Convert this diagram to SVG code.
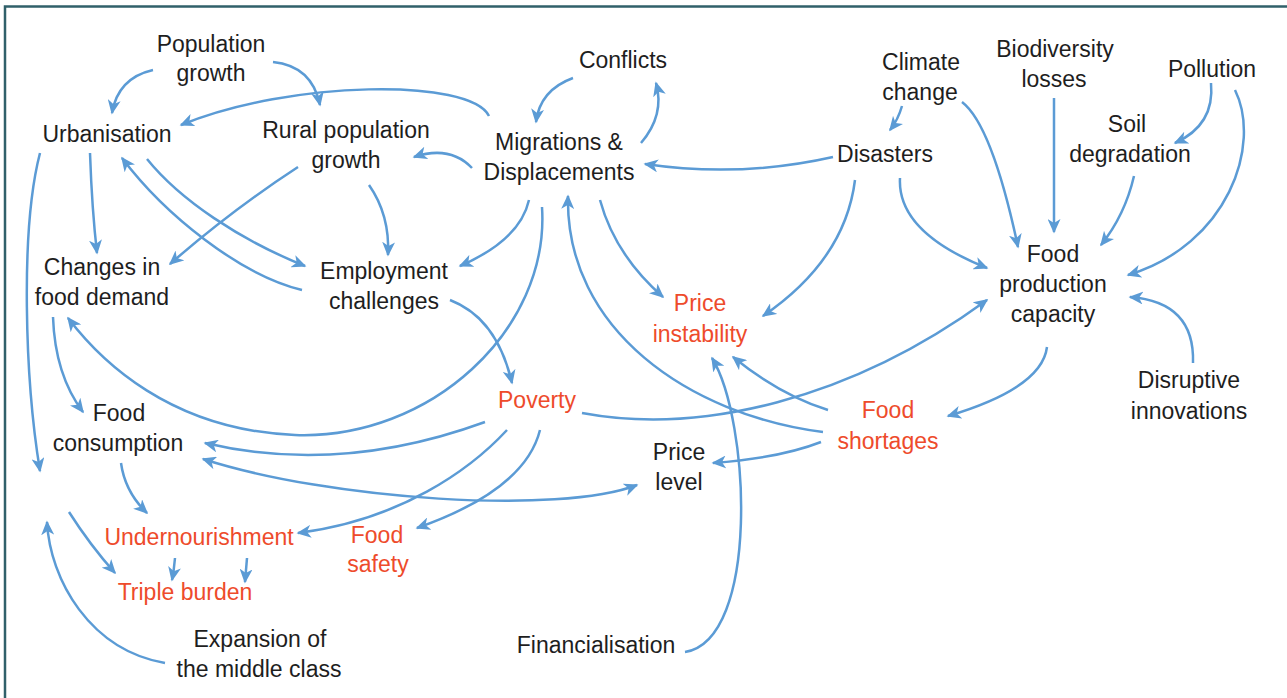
<svg xmlns="http://www.w3.org/2000/svg" width="1287" height="698" viewBox="0 0 1287 698">
<defs>
<marker id="ah" markerUnits="userSpaceOnUse" markerWidth="15" markerHeight="13" refX="13" refY="6.5" orient="auto-start-reverse" viewBox="0 0 15 13">
<path d="M0,0 L14.5,6.5 L0,13 L4,6.5 z" fill="#5b9bd5"/>
</marker>
<style>
text{font-family:"Liberation Sans",Arial,sans-serif;font-size:23px;text-anchor:middle;fill:#1e1e1e}
.r{fill:#ee4b2b}
.c path{fill:none;stroke:#5b9bd5;stroke-width:2.5;marker-end:url(#ah)}
</style>
</defs>
<rect width="1287" height="698" fill="#fff"/>
<path d="M5,698 V6.5 H1287" fill="none" stroke="#30606a" stroke-width="2.5"/>
<g class="c" id="connectors">
<path d="M153,70 Q118,78 112,113"/>
<path d="M273,62 Q312,66 320,105"/>
<path d="M489,116 C470,78 290,80 181,125"/>
<path d="M472,168 Q450,145 414,157"/>
<path d="M573,78 Q540,90 536,122"/>
<path d="M641,143 Q665,115 656,83"/>
<path d="M833,157 Q740,178 645,164"/>
<path d="M902,106 Q898,120 890,130"/>
<path d="M962,102 Q992,125 1018,247"/>
<path d="M1054,98 V232"/>
<path d="M1211,83 Q1215,125 1175,143"/>
<path d="M1235,90 C1262,145 1228,245 1128,275"/>
<path d="M1134,176 Q1125,215 1101,245"/>
<path d="M900,178 Q897,232 987,268"/>
<path d="M855,180 Q845,260 763,316"/>
<path d="M1193,363 Q1195,302 1130,297"/>
<path d="M1047,347 Q1042,388 948,416"/>
<path d="M582,413 C700,435 850,400 987,300"/>
<path d="M828,410 Q780,395 733,357"/>
<path d="M823,432 C690,415 565,330 568,196"/>
<path d="M821,442 Q780,458 713,463"/>
<path d="M685,652 C760,640 750,420 712,358"/>
<path d="M600,200 Q615,255 663,297"/>
<path d="M529,200 Q520,240 460,266"/>
<path d="M542,207 C550,330 430,440 295,435 C170,430 100,360 68,318"/>
<path d="M302,290 C240,275 165,215 122,158"/>
<path d="M147,159 C180,200 240,240 305,266"/>
<path d="M298,167 Q232,210 170,264"/>
<path d="M369,185 Q390,215 388,255"/>
<path d="M90,153 Q92,210 97,253"/>
<path d="M40,153 C20,230 25,380 40,471"/>
<path d="M53,317 Q55,375 83,412"/>
<path d="M121,463 Q125,492 147,513"/>
<path d="M69,512 Q90,545 115,573"/>
<path d="M175,558 Q174,570 172,580"/>
<path d="M247,558 Q246,570 245,582"/>
<path d="M165,663 C90,650 50,580 47,522"/>
<path d="M450,300 Q497,318 512,383"/>
<path d="M485,422 Q340,475 205,443"/>
<path d="M507,430 C470,470 400,520 298,533"/>
<path d="M540,430 Q525,490 417,528"/>
<path d="M203,459 C330,500 560,515 637,485" style="marker-start:url(#ah)"/>
</g>
<g id="population-growth"><text x="211" y="52">Population</text><text x="211" y="81">growth</text></g>
<g id="urbanisation"><text x="107" y="142">Urbanisation</text></g>
<g id="rural-population-growth"><text x="346" y="138">Rural population</text><text x="346" y="168">growth</text></g>
<g id="conflicts"><text x="623" y="68">Conflicts</text></g>
<g id="migrations"><text x="559" y="150">Migrations &amp;</text><text x="559" y="180">Displacements</text></g>
<g id="climate-change"><text x="921" y="70">Climate</text><text x="920" y="100">change</text></g>
<g id="biodiversity-losses"><text x="1055" y="57">Biodiversity</text><text x="1054" y="87">losses</text></g>
<g id="pollution"><text x="1212" y="77">Pollution</text></g>
<g id="soil-degradation"><text x="1127" y="132">Soil</text><text x="1130" y="162">degradation</text></g>
<g id="disasters"><text x="885" y="162">Disasters</text></g>
<g id="food-production-capacity"><text x="1053" y="262">Food</text><text x="1053" y="292">production</text><text x="1053" y="322">capacity</text></g>
<g id="changes-food-demand"><text x="102" y="275">Changes in</text><text x="102" y="305">food demand</text></g>
<g id="employment-challenges"><text x="384" y="279">Employment</text><text x="384" y="309">challenges</text></g>
<g id="food-consumption"><text x="119" y="421">Food</text><text x="118" y="451">consumption</text></g>
<g id="undernourishment"><text class="r" x="199" y="545">Undernourishment</text></g>
<g id="triple-burden"><text class="r" x="185" y="600">Triple burden</text></g>
<g id="food-safety"><text class="r" x="377" y="543">Food</text><text class="r" x="378" y="572">safety</text></g>
<g id="expansion-middle-class"><text x="260" y="647">Expansion of</text><text x="259" y="677">the middle class</text></g>
<g id="poverty"><text class="r" x="537" y="408">Poverty</text></g>
<g id="price-instability"><text class="r" x="700" y="311">Price</text><text class="r" x="700" y="342">instability</text></g>
<g id="price-level"><text x="679" y="460">Price</text><text x="679" y="490">level</text></g>
<g id="financialisation"><text x="596" y="653">Financialisation</text></g>
<g id="food-shortages"><text class="r" x="888" y="418">Food</text><text class="r" x="888" y="449">shortages</text></g>
<g id="disruptive-innovations"><text x="1189" y="388">Disruptive</text><text x="1189" y="419">innovations</text></g>
</svg>
